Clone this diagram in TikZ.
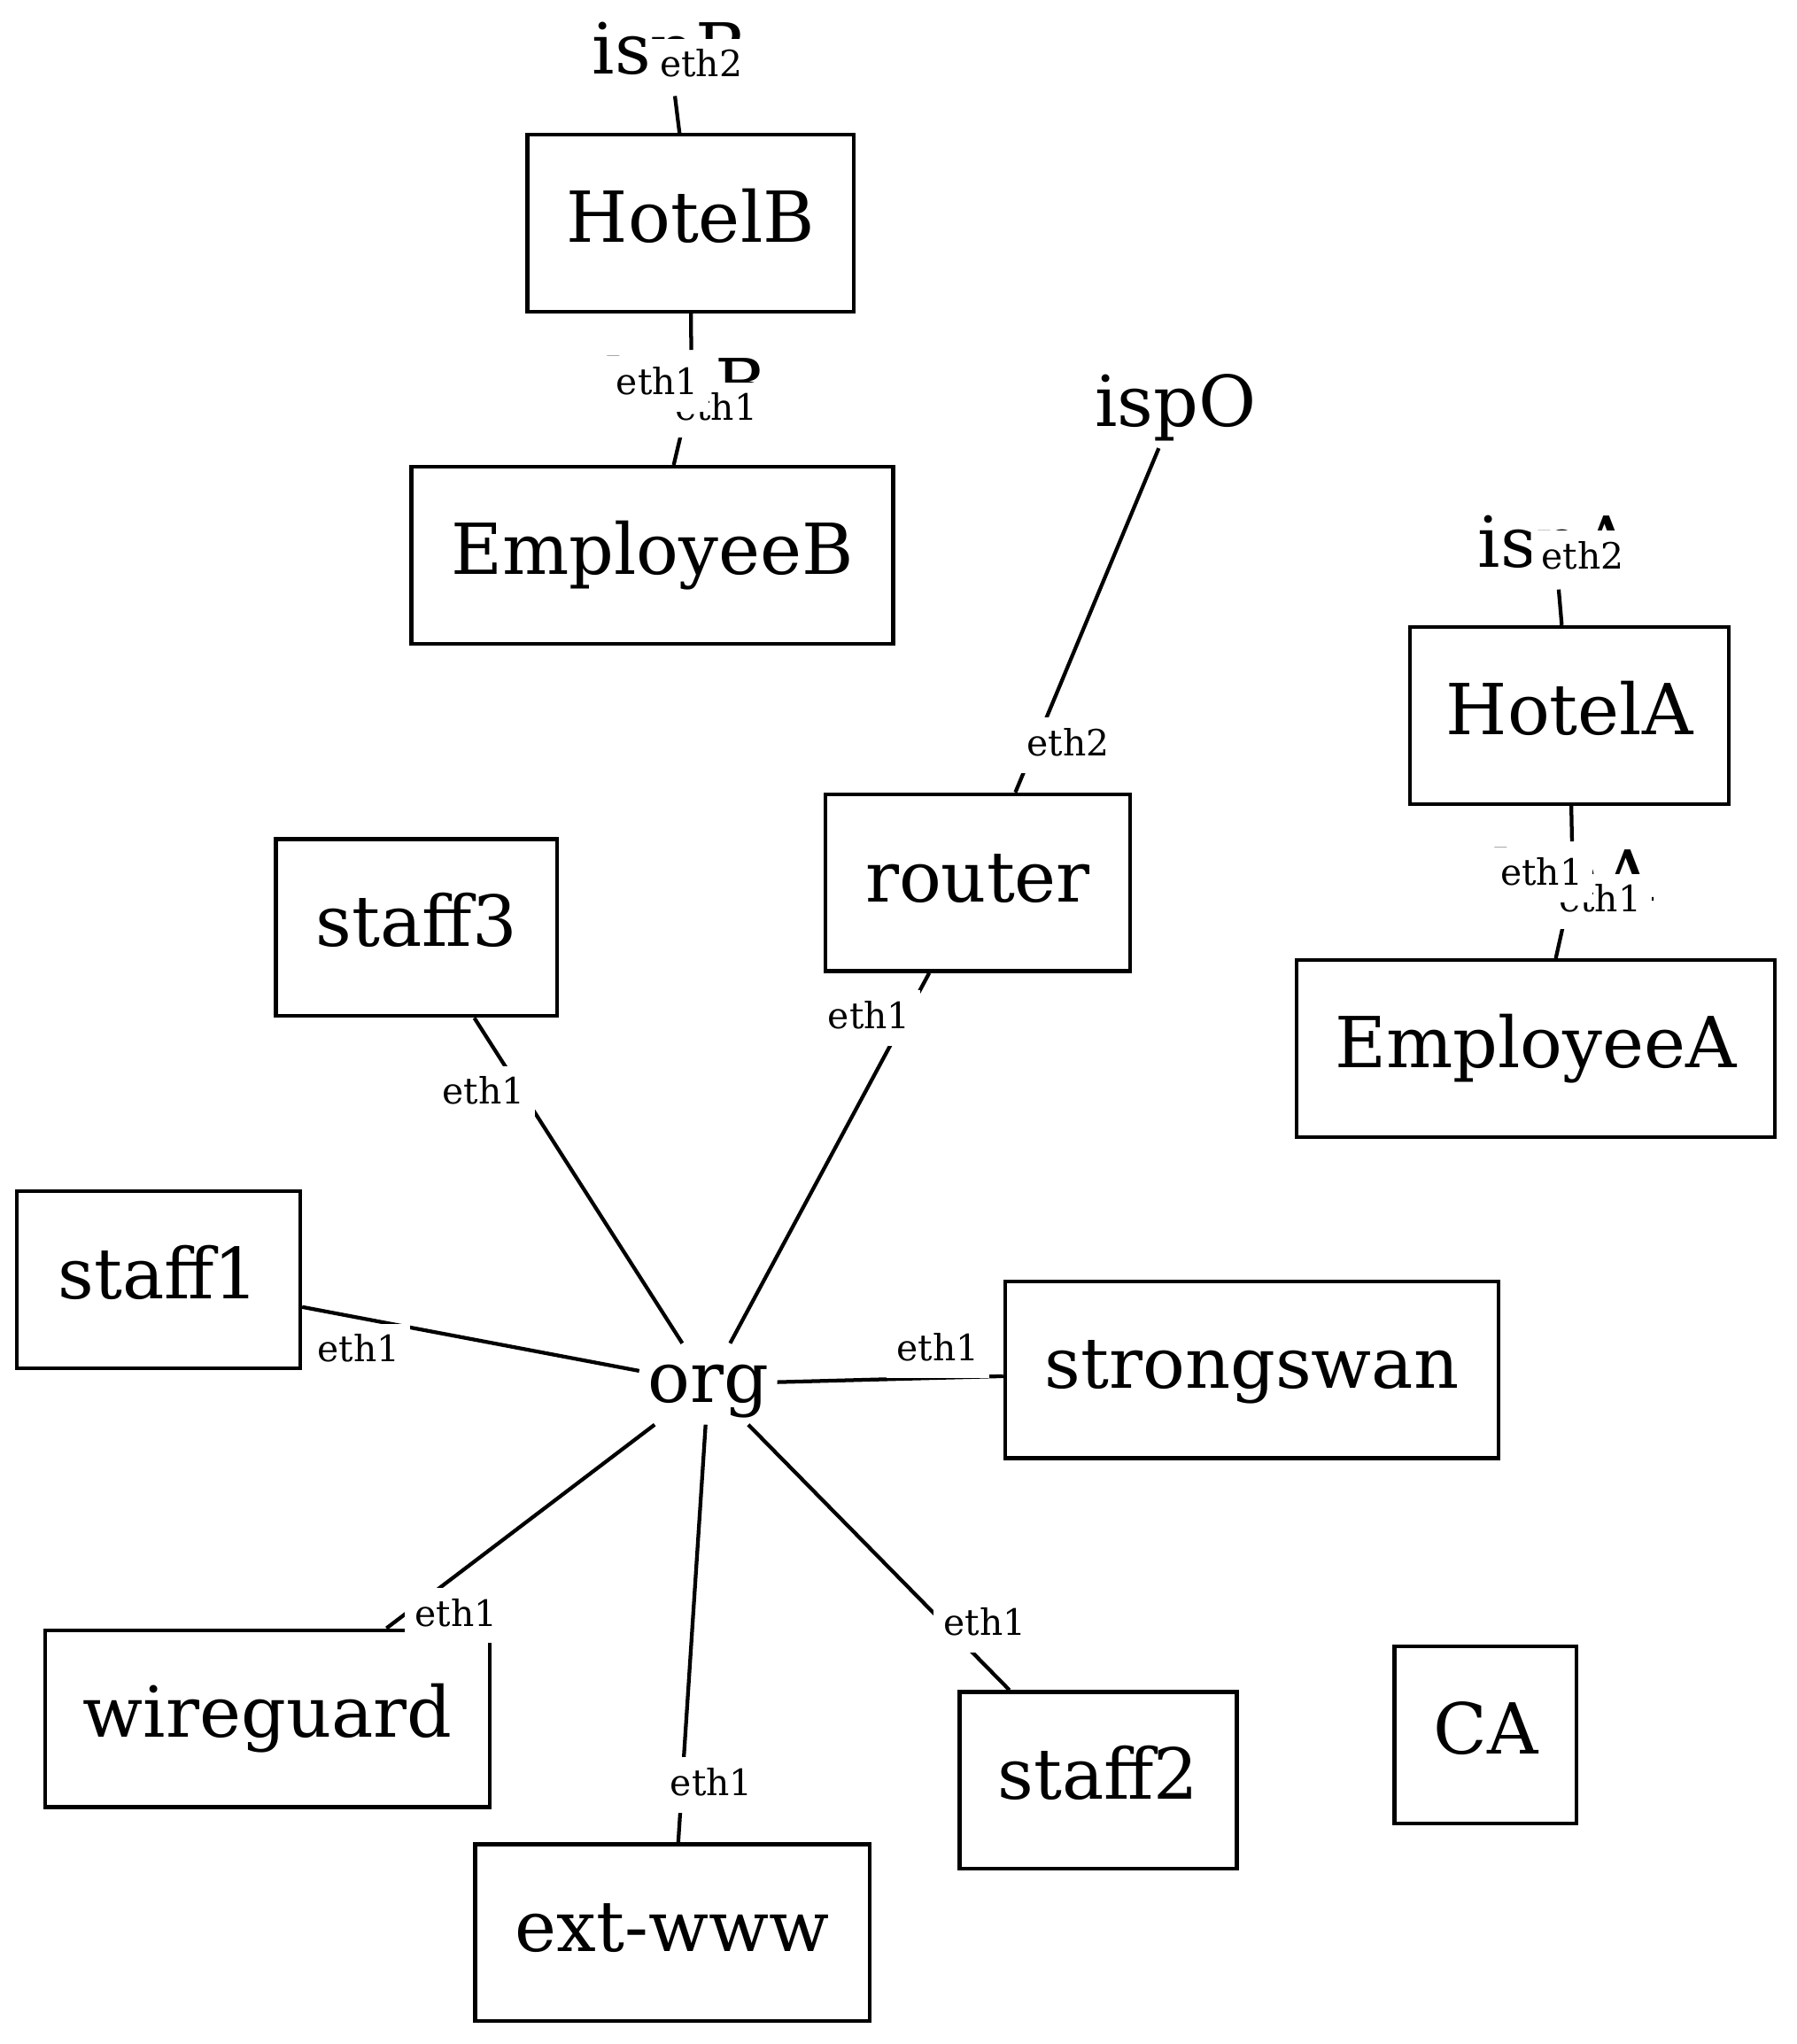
\documentclass[tikz,border=0pt]{standalone}
\usepackage{fontspec}
\setmainfont{DejaVu Serif}

\begin{document}
\begin{tikzpicture}[x=0.2591pt, y=-0.2591pt,
    host/.style={draw, line width=0.75pt, minimum height=35.2pt, inner sep=0pt,
        font=\fontsize{14pt}{16pt}\selectfont, text height=9.5pt, text depth=2pt},
    net/.style={inner xsep=1.5pt, inner ysep=0pt, minimum height=15.8pt,
        font=\fontsize{14pt}{16pt}\selectfont, text height=9.5pt, text depth=2pt},
    link/.style={line width=0.75pt},
    iface/.style={fill=white, anchor=base, inner sep=2pt, text height=5.6pt, text depth=1.4pt,
        font=\fontsize{7.2pt}{8pt}\selectfont}]
    \useasboundingbox (0,0) rectangle (1380,1570);
    % hosts
    \node[host, minimum width=65pt] (hotelB) at (530.5,171.5) {HotelB};
    \node[host, minimum width=95.9pt] (employeeB) at (501,426.5) {EmployeeB};
    \node[host, minimum width=60.6pt] (router) at (751,678) {router};
    \node[host, minimum width=63.5pt] (hotelA) at (1205.5,549.5) {HotelA};
    \node[host, minimum width=95.1pt] (employeeA) at (1179.5,805.5) {EmployeeA};
    \node[host, minimum width=56pt] (staff3) at (320,712.5) {staff3};
    \node[host, minimum width=56.4pt] (staff1) at (121.8,983) {staff1};
    \node[host, minimum width=98.2pt] (strongswan) at (961.5,1052) {strongswan};
    \node[host, minimum width=88.4pt] (wireguard) at (205.5,1320) {wireguard};
    \node[host, minimum width=78.5pt] (extwww) at (516.4,1484.5) {ext-www};
    \node[host, minimum width=55.2pt] (staff2) at (843.5,1367.5) {staff2};
    \node[host, minimum width=36.3pt] (ca) at (1141,1332.5) {CA};
    % networks
    \node[net] (ispB) at (514.5,42.5) {ispB};
    \node[net] (lanB) at (531,300) {lanB\hspace*{2pt}};
    \node[net] (ispO) at (903,313) {ispO};
    \node[net] (ispA) at (1194.5,421.5) {ispA};
    \node[net] (lanA) at (1208,677.5) {lanA};
    \node[net] (org) at (544,1063) {org};
    % links
    \draw[link] (ispB) -- (hotelB);
    \draw[link] (hotelB) -- (lanB);
    \draw[link] (lanB) -- (employeeB);
    \draw[link] (ispO) -- (router);
    \draw[link] (ispA) -- (hotelA);
    \draw[link] (hotelA) -- (lanA);
    \draw[link] (lanA) -- (employeeA);
    \draw[link] (router) -- (org);
    \draw[link] (staff3) -- (org);
    \draw[link] (staff1) -- (org);
    \draw[link] (org) -- (strongswan);
    \draw[link] (org) -- (wireguard);
    \draw[link] (org) -- (extwww);
    \draw[link] (org) -- (staff2);
    % interface labels
    \node[iface] (ispB-eth2) at (538.5,59) {eth2};
    \node[iface] (employeeB-eth1) at (550,323) {eth1};
    \node[iface] (hotelB-eth1) at (505,303) {eth1};
    \node[iface] (router-eth2) at (820.5,580.5) {eth2};
    \node[iface] (ispA-eth2) at (1215.5,437) {eth2};
    \node[iface] (employeeA-eth1) at (1229,700.5) {eth1};
    \node[iface] (hotelA-eth1) at (1184,680) {eth1};
    \node[iface] (router-eth1) at (667.5,790) {eth1};
    \node[iface] (staff3-eth1) at (371.5,848) {eth1};
    \node[iface] (staff1-eth1) at (275.5,1046) {eth1};
    \node[iface] (strongswan-eth1) at (720.5,1045) {eth1};
    \node[iface] (wireguard-eth1) at (350.5,1249) {eth1};
    \node[iface] (extwww-eth1) at (546.5,1379) {eth1};
    \node[iface] (staff2-eth1) at (756.5,1256) {eth1};
\end{tikzpicture}
\end{document}
